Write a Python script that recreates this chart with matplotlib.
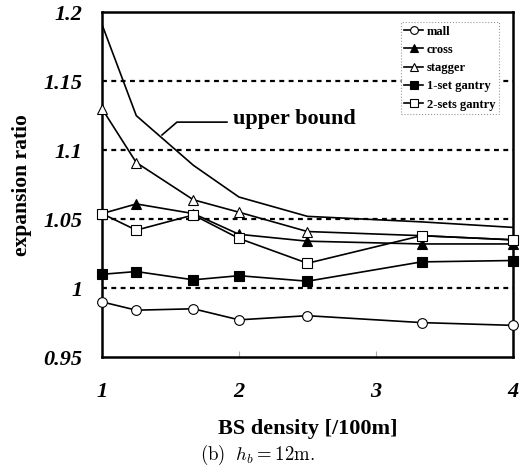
#!/usr/bin/env python3
"""Expansion ratio vs BS density, h_b = 12 m."""

import matplotlib

matplotlib.use("Agg")
import matplotlib.pyplot as plt

density = [1.0, 1.25, 1.667, 2.0, 2.5, 3.333, 4.0]

mall = [0.990, 0.984, 0.985, 0.977, 0.980, 0.975, 0.973]
cross = [1.054, 1.061, 1.054, 1.039, 1.034, 1.032, 1.032]
stagger = [1.130, 1.091, 1.064, 1.055, 1.041, 1.038, 1.035]
gantry_1 = [1.010, 1.012, 1.006, 1.009, 1.005, 1.019, 1.020]
gantry_2 = [1.054, 1.042, 1.053, 1.036, 1.018, 1.038, 1.035]
upper_bound = [1.191, 1.125, 1.089, 1.066, 1.052, 1.048, 1.044]

ref_levels = [1.0, 1.05, 1.1, 1.15]

plt.rcParams["font.family"] = ["Liberation Serif", "DejaVu Serif"]
plt.rcParams["mathtext.fontset"] = "cm"

fig = plt.figure(figsize=(5.26, 4.68), dpi=100)
ax = fig.add_axes([0.194, 0.237, 0.781, 0.737])

for level in ref_levels:
    ax.axhline(level, color="black", lw=1.6, linestyle=(0, (2.2, 2.0)), zorder=1)

ax.plot(density, upper_bound, color="black", lw=1.2, zorder=2)

series = [
    ("mall", mall, "o", "white"),
    ("cross", cross, "^", "black"),
    ("stagger", stagger, "^", "white"),
    ("1-set gantry", gantry_1, "s", "black"),
    ("2-sets gantry", gantry_2, "s", "white"),
]
for label, values, marker, face in series:
    ax.plot(
        density,
        values,
        color="black",
        lw=1.2,
        marker=marker,
        markersize=7,
        markerfacecolor=face,
        markeredgecolor="black",
        markeredgewidth=0.8,
        label=label,
        zorder=3,
        clip_on=False,
    )

# leader line for the upper bound label
ax.plot([1.438, 1.547, 1.912], [1.111, 1.1203, 1.1203], color="black", lw=1.2, zorder=2)
ax.text(1.955, 1.1225, "upper bound", fontsize=16, fontweight="bold", va="center")

ax.set_xlim(1, 4)
ax.set_ylim(0.95, 1.2)
ax.set_xticks([1, 2, 3, 4])
ax.set_yticks([0.95, 1.0, 1.05, 1.1, 1.15, 1.2])
ax.set_xticklabels(["1", "2", "3", "4"])
ax.set_yticklabels(["0.95", "1", "1.05", "1.1", "1.15", "1.2"])
ax.tick_params(axis="x", direction="in", length=4, color="#aaaaaa", pad=18)
ax.tick_params(axis="y", length=0, pad=14)
for lab in ax.get_xticklabels() + ax.get_yticklabels():
    lab.set_fontsize(16)
    lab.set_fontweight("bold")
    lab.set_fontstyle("italic")
for side in ax.spines.values():
    side.set_linewidth(1.8)

ax.set_xlabel("BS density [/100m]", fontsize=16, fontweight="bold", labelpad=12)
ax.set_ylabel("expansion ratio", fontsize=15.5, fontweight="bold", labelpad=8)

leg = ax.legend(
    loc="upper right",
    bbox_to_anchor=(0.982, 0.99),
    prop={"weight": "bold", "size": 9},
    handlelength=1.5,
    handletextpad=0.3,
    labelspacing=0.5,
    borderpad=0.3,
    fancybox=False,
    framealpha=1,
    markerscale=0.8,
)
leg.get_frame().set_edgecolor("#999999")
leg.get_frame().set_linewidth(0.8)
leg.get_frame().set_linestyle(":")

fig.text(0.49, 0.018, r"$\mathrm{(b)}\ \ h_b\mathrm{=12m.}$", fontsize=13.5, ha="center")

fig.savefig("out.png", dpi=100)
